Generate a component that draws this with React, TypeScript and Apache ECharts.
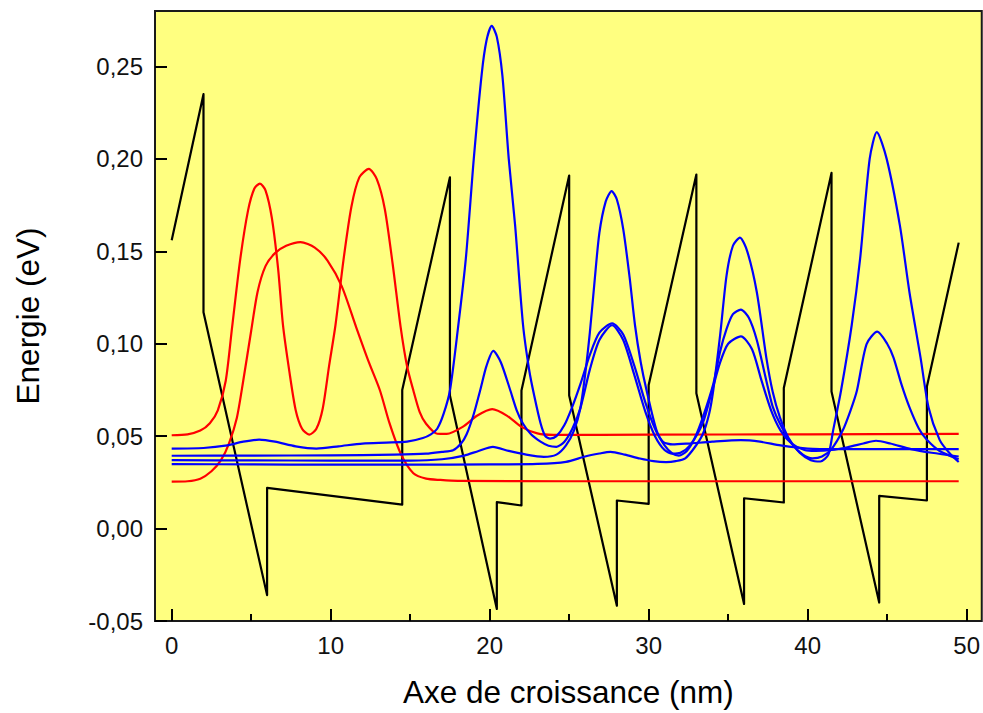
import React, { useEffect, useRef } from "react";
import * as echarts from "echarts";

const xMajorTicks = [0, 10, 20, 30, 40, 50];
const xMinorTicks = [5, 15, 25, 35, 45];
const yTicks = [-0.05, 0, 0.05, 0.1, 0.15, 0.2, 0.25];

// Conduction band potential profile (black)
const potential: [number, number][] = [
  [0, 0.156], [2.0, 0.235], [2.0, 0.117], [6.0, -0.036], [6.0, 0.022], [14.5, 0.013],
  [14.5, 0.075], [17.5, 0.19], [17.5, 0.072], [20.45, -0.0435], [20.45, 0.0143], [22.0, 0.0125],
  [22.0, 0.0747], [25.0, 0.191], [25.0, 0.072], [28.0, -0.0417], [28.0, 0.0152], [30.0, 0.0134],
  [30.0, 0.0777], [33.0, 0.1915], [33.0, 0.0732], [36.0, -0.0408], [36.0, 0.0164], [38.5, 0.0141],
  [38.5, 0.0761], [41.5, 0.1924], [41.5, 0.0741], [44.5, -0.04], [44.5, 0.0177], [47.5, 0.0152],
  [47.5, 0.0768], [49.5, 0.1547],
];

// Red states
const redGround: [number, number][] = [
  [0, 0.0254], [1, 0.0256], [1.8, 0.027], [2.5, 0.031], [3.1, 0.037], [3.6, 0.046], [4.1, 0.06],
  [4.5, 0.08], [5.0, 0.107], [5.4, 0.128], [5.9, 0.142], [6.5, 0.149], [7.2, 0.153], [8.1, 0.155],
  [9.0, 0.152], [9.8, 0.145], [10.7, 0.131], [11.6, 0.109], [12.4, 0.09], [13.1, 0.0747],
  [13.7, 0.057], [14.4, 0.0406], [15.2, 0.0299], [16.0, 0.027], [16.9, 0.0263], [18, 0.0258],
  [25, 0.0256], [35, 0.0256], [49.5, 0.0256],
];
const redExcited: [number, number][] = [
  [0, 0.0505], [1, 0.051], [1.8, 0.053], [2.4, 0.057], [2.9, 0.064], [3.4, 0.08], [3.8, 0.109],
  [4.3, 0.145], [4.8, 0.172], [5.2, 0.184], [5.55, 0.1866], [5.9, 0.183], [6.3, 0.168], [6.7, 0.14],
  [7.0, 0.11], [7.4, 0.085], [7.8, 0.064], [8.2, 0.054], [8.65, 0.0508], [9.1, 0.054], [9.5, 0.065],
  [9.9, 0.088], [10.3, 0.11], [10.8, 0.145], [11.3, 0.174], [11.8, 0.19], [12.4, 0.1946],
  [12.9, 0.189], [13.4, 0.173], [13.9, 0.143], [14.4, 0.109], [14.8, 0.088], [15.2, 0.0747],
  [15.6, 0.063], [16.0, 0.0567], [16.7, 0.0513], [17.3, 0.0512], [18.3, 0.055], [19.2, 0.061],
  [20.16, 0.0646], [21.1, 0.061], [22.0, 0.055], [23.0, 0.0515], [24, 0.0507], [30, 0.0508],
  [40, 0.051], [49.5, 0.0512],
];

// Blue states
const blue1: [number, number][] = [
  [0, 0.0433], [2, 0.0436], [3.5, 0.045], [4.5, 0.047], [5.5, 0.0481], [6.5, 0.047], [7.8, 0.0445],
  [9.1, 0.0433], [10.5, 0.0445], [12, 0.046], [13.5, 0.0465], [14.8, 0.047], [15.8, 0.049],
  [16.3, 0.051], [16.7, 0.054], [17.1, 0.062], [17.5, 0.0747], [18.0, 0.108], [18.5, 0.146],
  [19.0, 0.2], [19.5, 0.246], [19.8, 0.264], [20.13, 0.272], [20.45, 0.266], [20.8, 0.245],
  [21.2, 0.2], [21.6, 0.164], [22.1, 0.11], [22.5, 0.085], [22.8, 0.072], [23.2, 0.057],
  [23.5, 0.05], [23.8, 0.0487], [24.2, 0.05], [24.7, 0.056], [25.2, 0.066], [25.7, 0.078],
  [26.3, 0.094], [26.9, 0.106], [27.7, 0.111], [28.4, 0.105], [29.1, 0.088], [29.8, 0.068],
  [30.4, 0.054], [30.9, 0.047], [31.5, 0.0455], [32.5, 0.046], [34, 0.047], [35.8, 0.0478],
  [37, 0.047], [38.3, 0.045], [40, 0.0433], [42, 0.043], [46, 0.043], [49.5, 0.043],
];
const blue2: [number, number][] = [
  [0, 0.0394], [5, 0.0395], [10, 0.0396], [14, 0.04], [16, 0.0405], [17.0, 0.0415], [17.7, 0.0424],
  [18.2, 0.046], [18.55, 0.051], [19.0, 0.062], [19.4, 0.0747], [19.8, 0.088], [20.23, 0.0961],
  [20.7, 0.09], [21.3, 0.0747], [21.7, 0.064], [22.1, 0.0567], [22.6, 0.051], [23.2, 0.047],
  [23.7, 0.0448], [24.2, 0.0442], [24.7, 0.047], [25.2, 0.054], [25.7, 0.065], [26.3, 0.086],
  [26.9, 0.102], [27.7, 0.11], [28.4, 0.102], [29.1, 0.083], [29.8, 0.063], [30.4, 0.05],
  [31.0, 0.0425], [31.5, 0.0405], [32.0, 0.041], [32.6, 0.045], [33.4, 0.057], [34.0, 0.075],
  [34.5, 0.09], [35.0, 0.1], [35.8, 0.104], [36.5, 0.097], [37.1, 0.08], [37.7, 0.064],
  [38.3, 0.053], [39.0, 0.046], [39.8, 0.0425], [40.5, 0.042], [41.5, 0.0425], [42.5, 0.044],
  [43.5, 0.046], [44.3, 0.0475], [45.2, 0.046], [46.5, 0.043], [47.8, 0.041], [49.5, 0.039],
];
const blue3: [number, number][] = [
  [0, 0.037], [5, 0.0369], [10, 0.0368], [15, 0.0368], [17, 0.0375], [18.4, 0.0395], [19.3, 0.042],
  [20.2, 0.0442], [21.2, 0.042], [22.3, 0.04], [23.4, 0.0388], [24.2, 0.04], [24.8, 0.045],
  [25.3, 0.053], [25.7, 0.065], [26.0, 0.083], [26.3, 0.106], [26.6, 0.134], [26.9, 0.16],
  [27.3, 0.177], [27.67, 0.1826], [28.0, 0.178], [28.4, 0.162], [28.8, 0.136], [29.14, 0.11],
  [29.5, 0.09], [29.87, 0.0747], [30.5, 0.053], [31.0, 0.045], [31.5, 0.0405], [31.9, 0.0395],
  [32.4, 0.042], [32.9, 0.049], [33.4, 0.06], [34.06, 0.078], [34.5, 0.096], [34.9, 0.108],
  [35.3, 0.116], [35.8, 0.1185], [36.3, 0.114], [36.8, 0.102], [37.4, 0.08], [37.8, 0.066],
  [38.3, 0.056], [39, 0.046], [39.7, 0.04], [40.3, 0.038], [40.9, 0.039], [41.5, 0.043],
  [42.2, 0.053], [42.7, 0.064], [43.1, 0.0747], [43.7, 0.0997], [44.38, 0.1065], [45.0, 0.1],
  [45.4, 0.0925], [45.9, 0.078], [46.4, 0.0657], [47.0, 0.054], [47.5, 0.048], [48.3, 0.042],
  [49.5, 0.0375],
];
const blue4: [number, number][] = [
  [0, 0.0349], [5, 0.0347], [10, 0.0346], [15, 0.0346], [20, 0.0347], [23, 0.035], [24.8, 0.0361],
  [26, 0.039], [26.9, 0.0406], [27.6, 0.0415], [28.5, 0.04], [29.45, 0.0379], [30.3, 0.0365],
  [31.1, 0.036], [31.7, 0.0365], [32.3, 0.038], [32.9, 0.044], [33.4, 0.051], [33.8, 0.062],
  [34.06, 0.0747], [34.5, 0.105], [34.9, 0.137], [35.3, 0.153], [35.74, 0.1574], [36.2, 0.15],
  [36.8, 0.128], [37.4, 0.0925], [37.8, 0.074], [38.26, 0.06], [38.8, 0.049], [39.5, 0.041],
  [40.2, 0.037], [40.8, 0.0363], [41.3, 0.04], [41.6, 0.053], [42.1, 0.0747], [42.77, 0.11],
  [43.3, 0.146], [43.9, 0.2], [44.35, 0.2145], [44.97, 0.2], [45.8, 0.164], [46.4, 0.128],
  [47.1, 0.0925], [47.6, 0.0657], [48.3, 0.048], [48.9, 0.041], [49.5, 0.036],
];

const FONT = "'Liberation Sans', Arial, Helvetica, sans-serif";

export default function App() {
  const ref = useRef<HTMLDivElement>(null);
  useEffect(() => {
    if (!ref.current) return;
    const chart = echarts.init(ref.current, null, { renderer: "svg" });
    const line = (data: [number, number][], color: string, smooth: boolean) => ({
      type: "line",
      data,
      showSymbol: false,
      symbol: "none",
      smooth: smooth ? 0.25 : false,
      lineStyle: { color, width: 2.2, join: "round" },
      clip: true,
      silent: true,
    });
    chart.setOption({
      animation: false,
      backgroundColor: "#ffffff",
      grid: {
        left: 155,
        right: 1,
        top: 11,
        bottom: 87,
        show: true,
        backgroundColor: "#ffff80",
        borderColor: "#1a1a1a",
        borderWidth: 2,
      },
      xAxis: [
        {
          type: "value",
          min: -1.05,
          max: 50.95,
          position: "bottom",
          name: "Axe de croissance (nm)",
          nameLocation: "middle",
          nameGap: 55,
          nameTextStyle: { fontSize: 31.5, color: "#000", fontFamily: FONT },
          axisLine: { show: false, onZero: false },
          splitLine: { show: false },
          axisTick: {
            show: true,
            inside: true,
            length: 12,
            customValues: xMajorTicks,
            lineStyle: { color: "#000", width: 2 },
          },
          axisLabel: {
            fontSize: 24,
            color: "#111",
            fontFamily: FONT,
            margin: 12,
            customValues: xMajorTicks,
            formatter: (v: number) => String(v),
          },
        },
        {
          type: "value",
          min: -1.05,
          max: 50.95,
          position: "bottom",
          axisLine: { show: false, onZero: false },
          splitLine: { show: false },
          axisLabel: { show: false },
          axisTick: {
            show: true,
            inside: true,
            length: 7,
            customValues: xMinorTicks,
            lineStyle: { color: "#000", width: 2 },
          },
        },
      ],
      yAxis: {
        type: "value",
        min: -0.05,
        max: 0.28,
        position: "left",
        name: "Energie (eV)",
        nameLocation: "middle",
        nameGap: 111,
        nameTextStyle: { fontSize: 31.5, color: "#000", fontFamily: FONT },
        axisLine: { show: false, onZero: false },
        splitLine: { show: false },
        axisTick: {
          show: true,
          inside: true,
          length: 12,
          customValues: yTicks,
          lineStyle: { color: "#000", width: 2 },
        },
        axisLabel: {
          fontSize: 24,
          color: "#111",
          fontFamily: FONT,
          margin: 12,
          customValues: yTicks,
          formatter: (v: number) => v.toFixed(2).replace(".", ","),
        },
      },
      series: [
        line(potential, "#000000", false),
        line(redGround, "#ff0000", true),
        line(redExcited, "#ff0000", true),
        line(blue1, "#0000ff", true),
        line(blue2, "#0000ff", true),
        line(blue3, "#0000ff", true),
        line(blue4, "#0000ff", true),
      ],
    });
    return () => chart.dispose();
  }, []);
  return (
    <div
      ref={ref}
      style={{ position: "fixed", left: 0, top: 0, width: 983, height: 713 }}
    />
  );
}
